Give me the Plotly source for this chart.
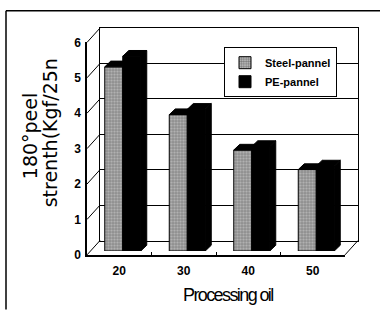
import plotly.graph_objects as go

# Peel strength by processing oil content, two panel types
categories = ["20", "30", "40", "50"]
steel_pannel = [5.2, 3.85, 2.85, 2.3]
pe_pannel = [5.5, 4.0, 2.95, 2.4]
y_ticks = [0, 1, 2, 3, 4, 5, 6]

W, H = 380, 326


def px(x):
    return x / W


def py(y):
    return 1 - y / H


# pseudo-3D box geometry in pixels
FRONT_L, FRONT_R, FRONT_Y0, UNIT = 87, 345, 259, 37
SKEW_X, SKEW_Y = 13, 15          # offset from front plane to back wall
BAR_PLANE = 0.27                 # depth of the bars' front faces
YMAX = 6


def plane(frac):
    x0 = FRONT_L + SKEW_X * frac
    x1 = FRONT_R + SKEW_X * frac
    y0 = FRONT_Y0 - SKEW_Y * frac
    return [px(x0), px(x1)], [py(y0), py(y0 - UNIT * YMAX)]


def corner(frac, value):
    return (FRONT_L + SKEW_X * frac, FRONT_Y0 - SKEW_Y * frac - UNIT * value)


idx = list(range(len(categories)))
cat_px = (FRONT_R - FRONT_L) / len(categories)
bar_w = 18 / cat_px
dx = 6 / cat_px
dy = 6 / UNIT

fig = go.Figure()

# empty traces so the back-wall and front-axis subplots get drawn
for xa, ya in (("x", "y"), ("x2", "y2")):
    fig.add_trace(go.Scatter(x=[], y=[], xaxis=xa, yaxis=ya, mode="markers",
                             showlegend=False, hoverinfo="skip"))

fig.add_trace(go.Bar(
    x=idx, y=steel_pannel, name="Steel-pannel", width=bar_w, offset=-bar_w,
    xaxis="x3", yaxis="y3",
    marker=dict(color="#bdbdbd", line=dict(color="black", width=1),
                pattern=dict(shape=".", fgcolor="#333333", bgcolor="#c2c2c2",
                             size=3, solidity=0.5)),
))
fig.add_trace(go.Bar(
    x=idx, y=pe_pannel, name="PE-pannel", width=bar_w, offset=0,
    xaxis="x3", yaxis="y3",
    marker=dict(color="black", line=dict(color="black", width=1)),
))

shapes = []
# top and side faces of the columns
for i, (s, p) in enumerate(zip(steel_pannel, pe_pannel)):
    for xl, v, side in ((i - bar_w, s, False), (i, p, True)):
        xr = xl + bar_w
        shapes.append(dict(
            type="path", xref="x3", yref="y3",
            path=f"M{xl},{v} L{xl + dx},{v + dy} L{xr + dx},{v + dy} L{xr},{v} Z",
            fillcolor="black", line=dict(color="black", width=1)))
        if side:
            shapes.append(dict(
                type="path", xref="x3", yref="y3",
                path=f"M{xr},0 L{xr + dx},{dy} L{xr + dx},{v + dy} L{xr},{v} Z",
                fillcolor="black", line=dict(color="black", width=1)))

# side wall: depth lines from the front axis to the back wall
for v in y_ticks:
    (x0, y0), (x1, y1) = corner(0, v), corner(1, v)
    shapes.append(dict(type="line", xref="paper", yref="paper",
                       x0=px(x0), y0=py(y0), x1=px(x1), y1=py(y1),
                       line=dict(color="black", width=1)))
# right edge of the floor
shapes.append(dict(type="line", xref="paper", yref="paper",
                   x0=px(FRONT_R), y0=py(FRONT_Y0),
                   x1=px(FRONT_R + SKEW_X), y1=py(FRONT_Y0 - SKEW_Y),
                   line=dict(color="black", width=1)))
# outer frame
shapes.append(dict(type="line", xref="paper", yref="paper",
                   x0=px(6), y0=py(4), x1=1, y1=py(4),
                   line=dict(color="black", width=1.5)))
shapes.append(dict(type="line", xref="paper", yref="paper",
                   x0=px(6), y0=py(4), x1=px(6), y1=py(316),
                   line=dict(color="black", width=1.5)))

back_x, back_y = plane(1.0)
front_x, front_y = plane(0.0)
bar_x, bar_y = plane(BAR_PLANE)

tick_font = dict(family="Liberation Sans, Arial, sans-serif", size=12,
                 color="black", weight="bold")

fig.update_layout(
    width=W, height=H,
    margin=dict(l=0, r=0, t=0, b=0),
    paper_bgcolor="white", plot_bgcolor="rgba(0,0,0,0)",
    barmode="overlay",
    showlegend=True,
    # back wall with gridlines
    xaxis=dict(domain=back_x, range=[-0.5, 3.5], showgrid=False, zeroline=False,
               showticklabels=False, ticks="", showline=True, mirror=True,
               linecolor="black", linewidth=1, fixedrange=True),
    yaxis=dict(domain=back_y, range=[0, YMAX], dtick=1, showgrid=True,
               gridcolor="black", gridwidth=1, zeroline=False,
               showticklabels=False, ticks="", showline=True, mirror=True,
               linecolor="black", linewidth=1, fixedrange=True),
    # front axes with labels
    xaxis2=dict(domain=front_x, anchor="y2", range=[-0.5, 3.5],
                tickvals=idx, ticktext=categories, ticks="", showgrid=False,
                zeroline=False, showline=True, linecolor="black", linewidth=2,
                tickfont=tick_font, ticklabelstandoff=4,
                minor=dict(tickvals=[0.5, 1.5, 2.5], ticks="inside",
                           ticklen=3, tickcolor="black"),
                fixedrange=True),
    yaxis2=dict(domain=front_y, anchor="x2", range=[0, YMAX],
                tickvals=y_ticks, ticks="", showgrid=False, zeroline=False,
                showline=True, linecolor="black", linewidth=1.5,
                tickfont=tick_font, ticklabelstandoff=2, fixedrange=True),
    # plane of the columns
    xaxis3=dict(domain=bar_x, anchor="y3", range=[-0.5, 3.5], visible=False,
                fixedrange=True),
    yaxis3=dict(domain=bar_y, anchor="x3", range=[0, YMAX], visible=False,
                fixedrange=True),
    legend=dict(x=px(224), y=py(42), xanchor="left", yanchor="top",
                bgcolor="white", bordercolor="black", borderwidth=1,
                font=dict(family="Liberation Sans, Arial, sans-serif",
                          size=11, color="black", weight="bold"),
                itemwidth=30, tracegroupgap=0),
    shapes=shapes,
    annotations=[
        dict(text="180°peel", x=px(30), y=py(135), xref="paper", yref="paper",
             xanchor="center", yanchor="middle",
             textangle=-90, showarrow=False,
             font=dict(family="DejaVu Sans, sans-serif", size=19, color="black")),
        dict(text="strenth(Kgf/25n", x=px(50), y=py(132), xref="paper", yref="paper",
             xanchor="center", yanchor="middle",
             textangle=-90, showarrow=False,
             font=dict(family="DejaVu Sans, sans-serif", size=19, color="black")),
        dict(text='<span style="letter-spacing:-1.6px">Processing oil</span>',
             x=px(228), y=py(301), xref="paper", yref="paper",
             xanchor="center", yanchor="middle", showarrow=False,
             font=dict(family="Liberation Sans, Arial, sans-serif",
                       size=18, color="black")),
    ],
)

fig.write_html("out.html")
